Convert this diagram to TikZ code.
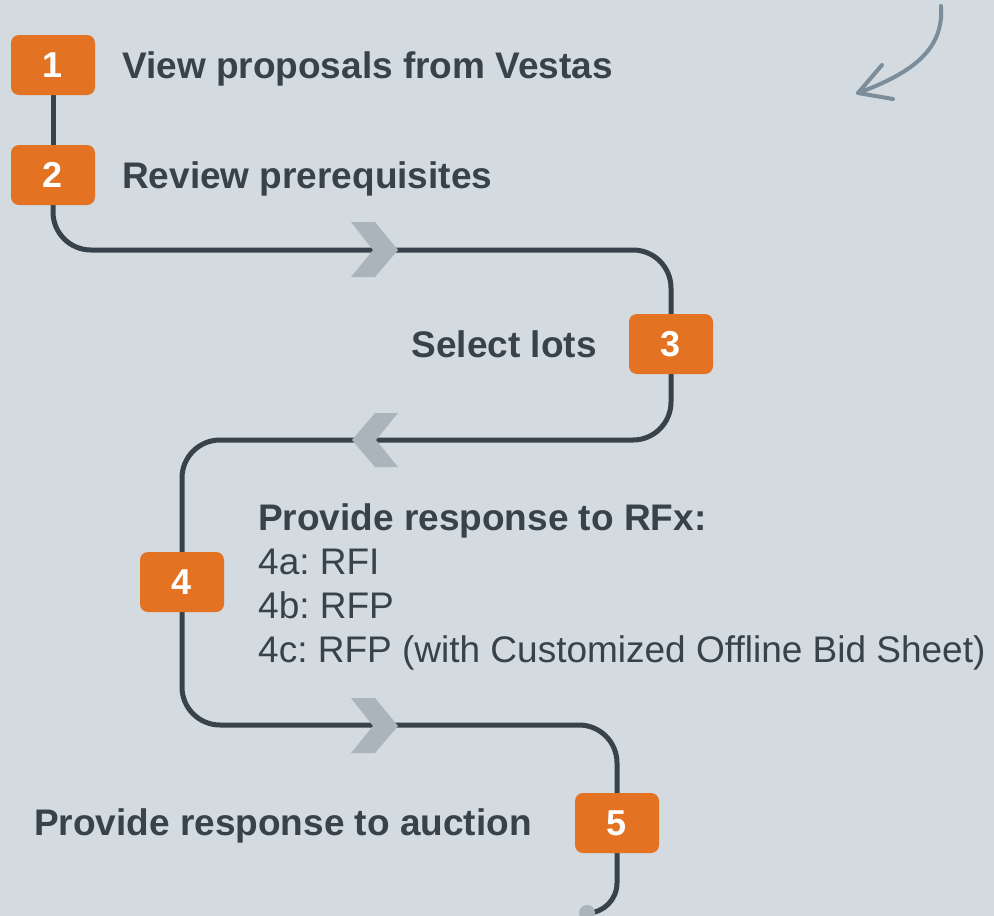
\documentclass[tikz,border=0pt]{standalone}
\usepackage{fontspec}
\setmainfont{Liberation Sans}
\frenchspacing
\definecolor{bgc}{RGB}{211,218,224}
\definecolor{orng}{RGB}{227,114,34}
\definecolor{darkc}{RGB}{55,66,74}
\definecolor{chev}{RGB}{169,180,187}
\definecolor{arrc}{RGB}{123,141,155}
\pgfdeclarelayer{bg}
\pgfdeclarelayer{bglines}
\pgfsetlayers{bg,bglines,main}
\begin{document}
\begin{tikzpicture}[x=1pt,y=-1pt,
  numbox/.style={fill=orng,draw=none,rounded corners=8pt,minimum width=84pt,minimum height=60pt,inner sep=0pt,text=white,font=\fontsize{36}{40}\selectfont\bfseries},
  lbl/.style={anchor=base west,inner sep=0pt,text=darkc,font=\fontsize{37}{44}\selectfont\bfseries},
  lblr/.style={anchor=base west,inner sep=0pt,text=darkc,font=\fontsize{37}{44}\selectfont},
  pathline/.style={draw=darkc,line width=5pt},
  chevfill/.style={fill=chev,draw=none},
  handarrow/.style={arrc,line width=4pt,line cap=round,line join=round}]
\begin{pgfonlayer}{bg}
\fill[bgc] (0,0) rectangle (994,916);
\end{pgfonlayer}
\useasboundingbox (0,0) rectangle (994,916);

% number boxes
\node[numbox] (b1) at (53,65) {1};
\node[numbox] (b2) at (53,175) {2};
\node[numbox] (b3) at (671,344) {3};
\node[numbox] (b4) at (182,582) {4};
\node[numbox] (b5) at (617,823) {5};

\coordinate (endp) at (587,913);

% path (behind boxes)
\begin{pgfonlayer}{bglines}
\draw[pathline] (b1.south) -- (b2.north);
\draw[pathline,rounded corners=38pt] (b2.south) -- (53,250) -- (671,250) -- (b3.north);
\draw[pathline,rounded corners=38pt] (b3.south) -- (671,440) -- (182,440) -- (b4.north);
\draw[pathline,rounded corners=38pt] (b4.south) -- (182,725) -- (617,725) -- (b5.north);
\draw[pathline,rounded corners=30pt] (b5.south) -- (617,913) -- (endp);
\end{pgfonlayer}
\fill[chev] (endp) circle (8pt);

% chevrons
\fill[chevfill] (351,222) -- (375,222) -- (398,250) -- (375,277) -- (351,277) -- (373,250) -- cycle;
\fill[chevfill] (398,413) -- (375,413) -- (352,440) -- (375,467) -- (398,467) -- (376,440) -- cycle;
\fill[chevfill] (351,698) -- (375,698) -- (398,726) -- (375,753) -- (351,753) -- (373,726) -- cycle;

% labels
\node[lbl] (t1) at (122,78) {View proposals from Vestas};
\node[lbl] (t2) at (122,188) {Review prerequisites};
\node[lbl,anchor=base east] (t3) at (597,357) {Select lots};
\node[lbl] (t4) at (258,530) {Provide response to RFx:};
\node[lblr] (t4a) at (258,574) {4a: RFI};
\node[lblr] (t4b) at (258,618) {4b: RFP};
\node[lblr] (t4c) at (258,662) {4c: RFP (with Customized Offline Bid Sheet)};
\node[lbl] (t5) at (34,835) {Provide response to auction};

% hand-drawn arrow
\coordinate (as) at (941,6);
\coordinate (at) at (858,93);
\coordinate (aa) at (882,65);
\coordinate (ab) at (893,99);
\draw[handarrow] (as) .. controls (944,48) and (915,72) .. (at);
\draw[handarrow] (aa) -- (at) -- (ab);
\end{tikzpicture}
\end{document}
